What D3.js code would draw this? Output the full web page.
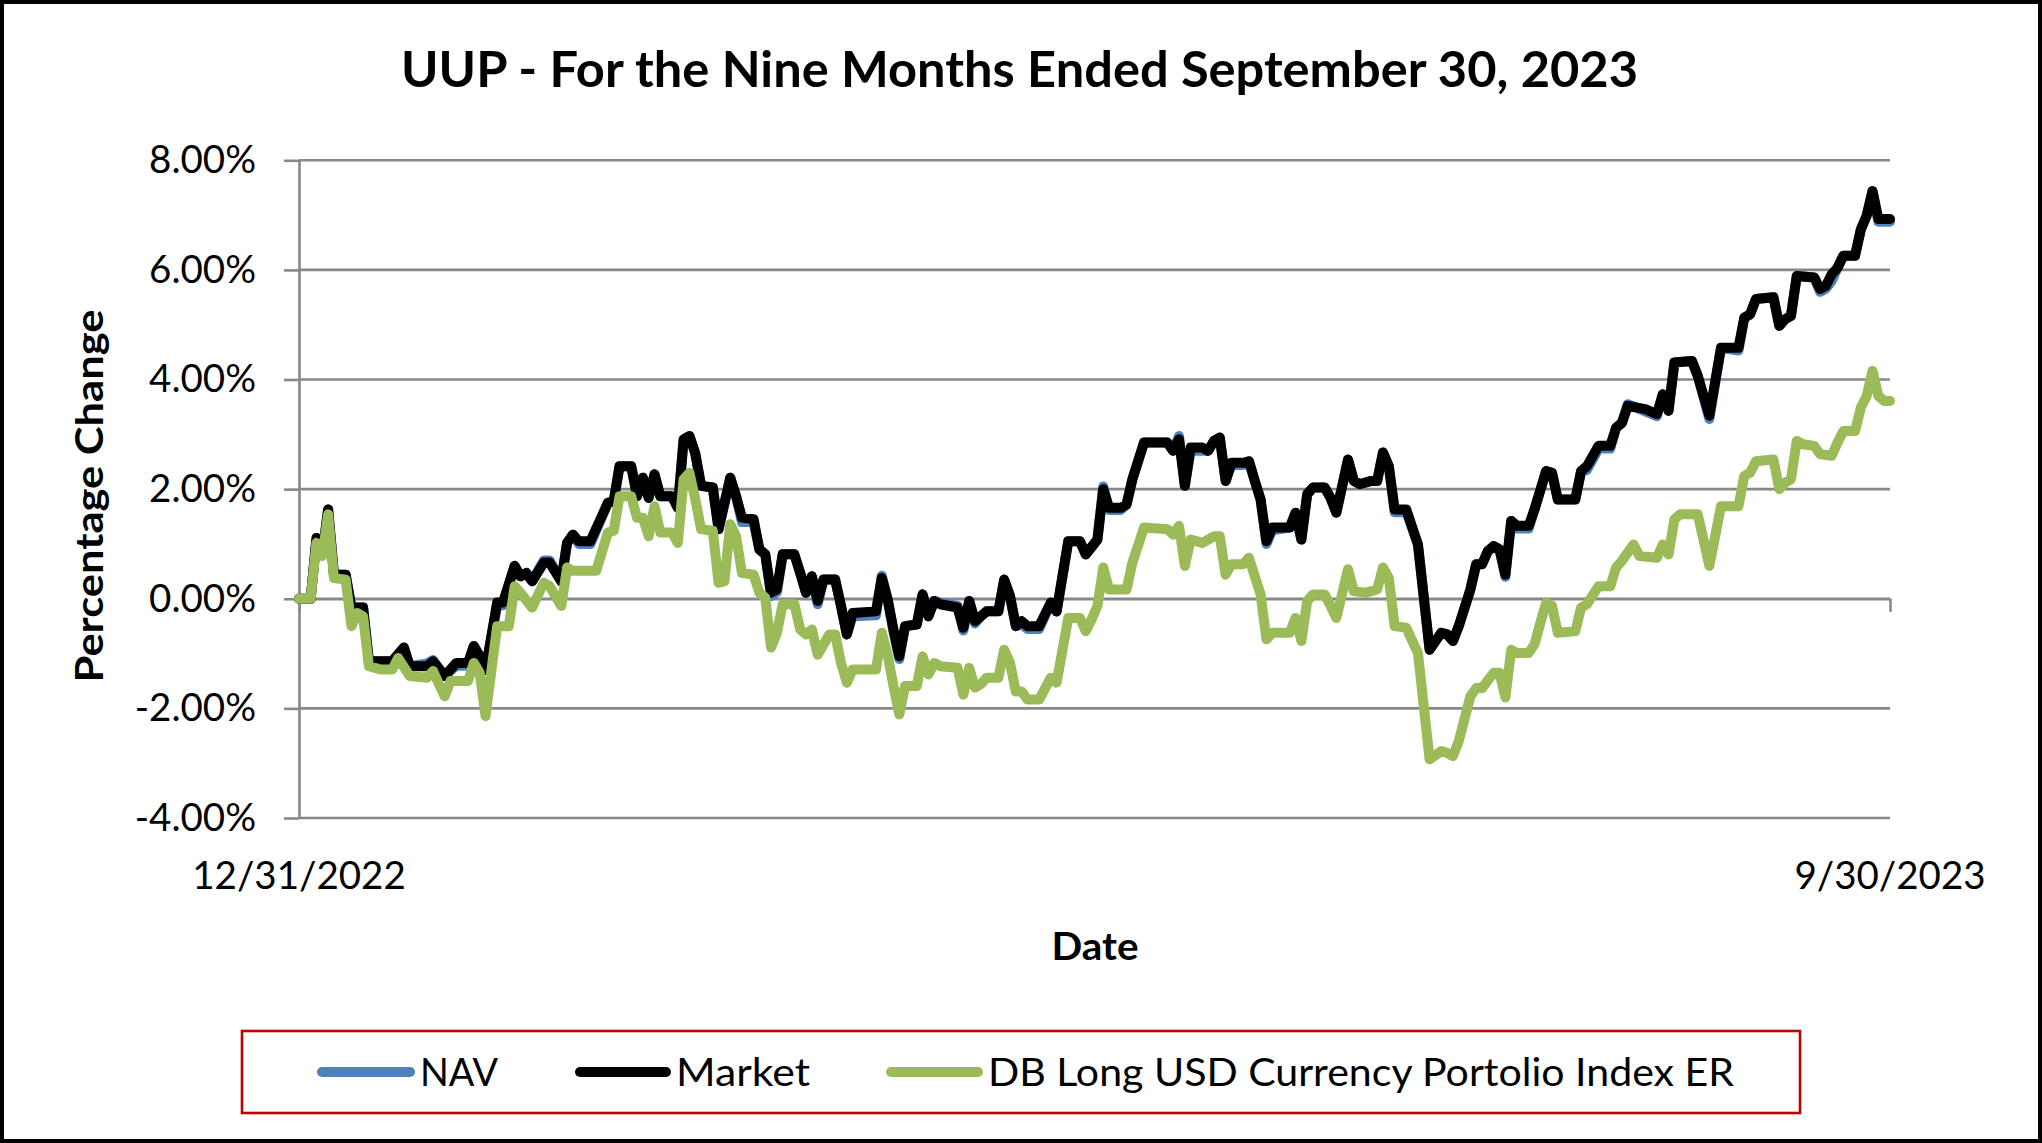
<!DOCTYPE html>
<html>
<head>
<meta charset="utf-8">
<script src="https://cdn.jsdelivr.net/npm/d3@7"></script>
<style>
  html, body { margin: 0; padding: 0; background: #fff; }
  svg { display: block; }
  text { font-family: Lato, "Open Sans", "Liberation Sans", sans-serif; fill: #000; }
</style>
</head>
<body>
<svg id="chart" width="2042" height="1143"></svg>
<script>
// ---------------- DATA ----------------
const titleText = "UUP - For the Nine Months Ended September 30, 2023";
const xAxisTitle = "Date";
const yAxisTitle = "Percentage Change";
const xTickDays = [0, 273];                 // calendar days since 12/31/2022
const xTickLabels = ["12/31/2022", "9/30/2023"];
const yTickValues = [8, 6, 4, 2, 0, -2, -4];
const yTickLabels = ["8.00%", "6.00%", "4.00%", "2.00%", "0.00%", "-2.00%", "-4.00%"];
const seriesNames = ["NAV", "Market", "DB Long USD Currency Portolio Index ER"];

// Market (and NAV) observations: day offset since 12/31/2022, % change
const marketDays = [0,2,3,4,5,6,8,9,11,12,16,18,19,22,23,25,27,29,30,31,32,34,35,37,38,39,40,42,43,45,46,47,48,50,53,54,55,57,58,59,60,61,62,64,65,66,67,68,69,71,72,74,75,76,78,79,80,81,82,83,85,86,87,88,89,90,92,93,94,95,99,100,101,102,103,104,106,107,108,109,110,113,114,115,116,117,118,120,121,122,123,124,125,127,129,130,132,134,135,137,138,139,141,142,143,145,149,150,151,152,153,155,156,157,158,159,160,162,163,164,165,166,167,170,171,172,173,174,176,177,178,180,181,182,184,185,186,187,188,190,192,194,196,197,198,199,201,202,203,204,205,206,207,208,209,211,212,214,215,216,219,220,221,223,225,226,227,228,231,233,234,235,236,239,240,242,244,247,248,249,250,253,254,255,256,257,260,261,262,263,264,265,267,268,269,270,271,273];
const marketValues = [0,0,1.11,0.80,1.63,0.44,0.44,-0.16,-0.16,-1.14,-1.14,-0.89,-1.23,-1.23,-1.14,-1.41,-1.17,-1.17,-0.86,-1.05,-1.30,-0.07,-0.07,0.60,0.41,0.47,0.32,0.66,0.66,0.32,1.02,1.17,1.05,1.05,1.75,1.78,2.42,2.42,1.87,2.21,1.84,2.27,1.87,1.87,1.66,2.91,2.97,2.65,2.06,2.03,1.27,2.21,1.87,1.48,1.45,0.90,0.81,0.11,0.17,0.81,0.81,0.47,0.11,0.41,-0.04,0.35,0.35,-0.13,-0.65,-0.26,-0.23,0.38,-0.01,-0.56,-1.05,-0.50,-0.47,0.08,-0.32,-0.04,-0.10,-0.16,-0.53,-0.04,-0.41,-0.32,-0.23,-0.23,0.35,0.05,-0.50,-0.41,-0.50,-0.50,-0.07,-0.23,1.05,1.05,0.81,1.08,2.00,1.66,1.66,1.72,2.18,2.85,2.85,2.70,2.91,2.06,2.76,2.76,2.70,2.88,2.94,2.15,2.48,2.48,2.51,2.15,1.81,1.05,1.30,1.30,1.57,1.08,1.91,2.03,2.03,1.84,1.57,2.54,2.15,2.09,2.15,2.15,2.67,2.42,1.63,1.63,0.99,-0.93,-0.62,-0.65,-0.77,-0.50,0.17,0.63,0.63,0.87,0.96,0.90,0.44,1.42,1.33,1.33,1.63,2.33,2.30,1.81,1.81,2.33,2.42,2.79,2.79,3.12,3.21,3.52,3.46,3.37,3.73,3.43,4.31,4.34,4.07,3.34,4.58,4.58,5.13,5.19,5.47,5.50,4.98,5.10,5.16,5.89,5.86,5.65,5.71,5.92,6.04,6.26,6.26,6.74,6.99,7.44,6.93,6.93];
const navValues = [0,0,1.11,0.80,1.63,0.44,0.44,-0.16,-0.16,-1.14,-1.14,-0.89,-1.23,-1.18,-1.12,-1.41,-1.22,-1.22,-0.86,-1.05,-1.30,-0.12,-0.12,0.60,0.41,0.47,0.32,0.70,0.70,0.32,1.02,1.17,1.00,1.00,1.75,1.78,2.42,2.42,1.87,2.21,1.84,2.27,1.87,1.87,1.66,2.91,2.97,2.65,2.06,2.03,1.27,2.21,1.87,1.40,1.40,0.90,0.81,0.05,0.12,0.81,0.81,0.47,0.11,0.41,-0.10,0.35,0.35,-0.13,-0.65,-0.32,-0.30,0.42,-0.01,-0.60,-1.10,-0.50,-0.47,0.08,-0.32,-0.04,-0.07,-0.13,-0.58,-0.04,-0.45,-0.32,-0.23,-0.23,0.35,0.05,-0.50,-0.47,-0.55,-0.55,-0.07,-0.23,1.05,1.05,0.81,1.08,2.05,1.62,1.62,1.72,2.18,2.85,2.85,2.70,2.97,2.06,2.70,2.70,2.70,2.88,2.94,2.15,2.44,2.44,2.51,2.15,1.81,1.00,1.25,1.30,1.57,1.08,1.91,2.03,2.03,1.84,1.57,2.54,2.15,2.09,2.15,2.15,2.67,2.42,1.58,1.58,0.99,-0.93,-0.62,-0.65,-0.77,-0.50,0.17,0.63,0.63,0.87,0.96,0.90,0.40,1.42,1.28,1.28,1.63,2.33,2.30,1.81,1.81,2.33,2.35,2.74,2.74,3.12,3.21,3.55,3.42,3.33,3.73,3.43,4.31,4.34,4.07,3.28,4.58,4.53,5.13,5.19,5.47,5.50,4.98,5.10,5.16,5.89,5.86,5.60,5.66,5.80,6.04,6.26,6.26,6.74,6.99,7.44,6.88,6.88];

// DB Long USD Currency Portfolio Index ER observations
const indexDays = [0,2,3,4,5,6,8,9,10,11,12,14,16,17,19,22,23,25,26,29,30,31,32,34,36,37,38,40,42,43,45,46,47,51,53,54,55,57,58,59,60,61,62,64,65,66,67,68,69,71,72,73,74,75,76,78,79,80,81,82,83,85,86,87,88,89,91,92,93,94,95,99,100,101,102,103,104,106,107,108,109,110,113,114,115,116,117,118,120,121,122,123,124,125,127,129,130,132,134,135,136,137,138,139,142,143,145,149,150,151,152,153,155,157,158,159,160,162,163,164,165,166,167,170,171,172,173,174,176,177,178,180,181,183,184,185,186,187,188,190,192,194,196,197,198,199,201,202,203,205,206,207,208,209,211,212,213,214,215,216,219,220,221,223,225,226,227,229,230,233,234,235,236,237,240,241,242,244,247,248,249,250,253,254,255,256,257,258,260,261,263,264,265,267,268,269,270,271,272,273];
const indexValues = [0,0,1.02,0.78,1.54,0.38,0.35,-0.50,-0.26,-0.32,-1.23,-1.29,-1.29,-1.08,-1.41,-1.44,-1.32,-1.78,-1.50,-1.50,-1.17,-1.35,-2.14,-0.50,-0.50,0.23,0.11,-0.16,0.29,0.23,-0.13,0.57,0.51,0.51,1.21,1.24,1.87,1.87,1.48,1.48,1.14,1.69,1.21,1.21,1.02,2.18,2.30,1.81,1.27,1.24,0.29,0.32,1.36,1.14,0.47,0.44,0.11,0.02,-0.89,-0.62,-0.10,-0.10,-0.56,-0.65,-0.56,-1.02,-0.65,-0.65,-1.17,-1.53,-1.29,-1.29,-0.62,-1.02,-1.59,-2.11,-1.59,-1.59,-1.05,-1.38,-1.17,-1.23,-1.26,-1.75,-1.26,-1.62,-1.56,-1.44,-1.44,-0.93,-1.17,-1.69,-1.69,-1.84,-1.84,-1.44,-1.53,-0.35,-0.35,-0.59,-0.38,-0.13,0.57,0.17,0.17,0.66,1.30,1.27,1.17,1.33,0.60,1.08,1.02,1.14,1.14,0.44,0.63,0.63,0.75,0.41,0.08,-0.74,-0.62,-0.62,-0.35,-0.77,-0.04,0.08,0.08,-0.13,-0.35,0.54,0.14,0.11,0.14,0.17,0.57,0.38,-0.50,-0.53,-0.99,-2.93,-2.78,-2.81,-2.87,-2.60,-1.78,-1.63,-1.63,-1.35,-1.35,-1.80,-0.93,-0.99,-0.99,-0.83,-0.44,-0.07,-0.13,-0.62,-0.59,-0.16,-0.10,0.23,0.23,0.57,0.69,0.99,0.78,0.75,0.99,0.81,1.45,1.54,1.54,1.08,0.60,1.69,1.69,2.24,2.30,2.51,2.54,2.00,2.12,2.18,2.88,2.82,2.79,2.64,2.61,2.85,3.06,3.06,3.49,3.70,4.16,3.70,3.61,3.61];

// ---------------- LAYOUT / STYLE ----------------
const W = 2042, H = 1143;
const plot = { left: 299, right: 1890, top: 160.3, bottom: 818 };
const colors = { nav: "#4F81BD", market: "#000000", index: "#9BBB59", grid: "#888888", legendBorder: "#C00000" };
const lineWidth = 10;

const svg = d3.select("#chart");
svg.append("rect").attr("x", 0).attr("y", 0).attr("width", W).attr("height", H).attr("fill", "#fff");
svg.append("rect").attr("x", 2).attr("y", 2).attr("width", W - 4).attr("height", H - 4)
  .attr("fill", "none").attr("stroke", "#000").attr("stroke-width", 4);

const x = d3.scaleLinear().domain([xTickDays[0], xTickDays[xTickDays.length - 1]]).range([plot.left, plot.right]);
const y = d3.scaleLinear().domain([-4, 8]).range([plot.bottom, plot.top]);

function fitWidth(sel, target) {
  const node = sel.node();
  const w = node.getComputedTextLength();
  if (Math.abs(w - target) / target > 0.015) {
    sel.attr("textLength", target).attr("lengthAdjust", "spacingAndGlyphs");
  }
  return sel;
}

// Title
fitWidth(svg.append("text").attr("x", 1019.5).attr("y", 87).attr("text-anchor", "middle")
  .style("font-size", "49px").style("font-weight", "700").text(titleText), 1237);

// Gridlines
svg.append("g").selectAll("line").data(yTickValues).join("line")
  .attr("x1", plot.left).attr("x2", plot.right)
  .attr("y1", d => y(d)).attr("y2", d => y(d))
  .attr("stroke", colors.grid).attr("stroke-width", 2.6);

// Y axis
const yAxis = d3.axisLeft(y).tickValues(yTickValues).tickSize(15).tickSizeOuter(0).tickPadding(28)
  .tickFormat((d, i) => yTickLabels[i]);
const gy = svg.append("g").attr("transform", `translate(${plot.left},0)`).call(yAxis);
gy.select(".domain").attr("stroke", colors.grid).attr("stroke-width", 2.6);
gy.selectAll(".tick line").attr("stroke", colors.grid).attr("stroke-width", 2.6);
gy.selectAll(".tick text").style("font-size", "38.5px").style("font-family", "Lato, sans-serif").attr("fill", "#000");

// X axis (crosses at 0%)
const xAxis = d3.axisBottom(x).tickValues(xTickDays).tickSize(13).tickSizeOuter(0).tickFormat("");
const gx = svg.append("g").attr("transform", `translate(0,${y(0)})`).call(xAxis);
gx.select(".domain").attr("stroke", colors.grid).attr("stroke-width", 2.6);
gx.selectAll(".tick line").attr("stroke", colors.grid).attr("stroke-width", 2.6);

// X tick labels (low position)
svg.append("g").selectAll("text").data(xTickDays).join("text")
  .attr("x", d => x(d)).attr("y", 888.5).attr("text-anchor", "middle")
  .style("font-size", "38.5px").text((d, i) => xTickLabels[i]);

// Axis titles
fitWidth(svg.append("text").attr("x", 1095).attr("y", 960).attr("text-anchor", "middle")
  .style("font-size", "38.5px").style("font-weight", "700").text(xAxisTitle), 87);
fitWidth(svg.append("text").attr("transform", "translate(103,496) rotate(-90)").attr("text-anchor", "middle")
  .style("font-size", "38.5px").style("font-weight", "700").text(yAxisTitle), 373);

// Series
const line = d3.line().x(d => x(d[0])).y(d => y(d[1])).curve(d3.curveLinear);
const navData = d3.zip(marketDays, navValues);
const marketData = d3.zip(marketDays, marketValues);
const indexData = d3.zip(indexDays, indexValues);
const series = [
  { data: navData, color: colors.nav },
  { data: marketData, color: colors.market },
  { data: indexData, color: colors.index }
];
svg.append("g").selectAll("path").data(series).join("path")
  .attr("d", d => line(d.data))
  .attr("fill", "none").attr("stroke", d => d.color)
  .attr("stroke-width", lineWidth).attr("stroke-linejoin", "round").attr("stroke-linecap", "round");

// Legend
const lg = svg.append("g");
lg.append("rect").attr("x", 242).attr("y", 1031).attr("width", 1558).attr("height", 82)
  .attr("fill", "#fff").attr("stroke", colors.legendBorder).attr("stroke-width", 2.6);
const legendItems = [
  { name: seriesNames[0], color: colors.nav, x1: 322, x2: 410, tx: 420, tw: 78 },
  { name: seriesNames[1], color: colors.market, x1: 580, x2: 666, tx: 676, tw: 134 },
  { name: seriesNames[2], color: colors.index, x1: 891, x2: 978, tx: 988, tw: 746 }
];
legendItems.forEach(it => {
  lg.append("line").attr("x1", it.x1).attr("x2", it.x2).attr("y1", 1072).attr("y2", 1072)
    .attr("stroke", it.color).attr("stroke-width", 10).attr("stroke-linecap", "round");
  fitWidth(lg.append("text").attr("x", it.tx).attr("y", 1085.5).style("font-size", "39px").text(it.name), it.tw);
});
</script>
</body>
</html>
